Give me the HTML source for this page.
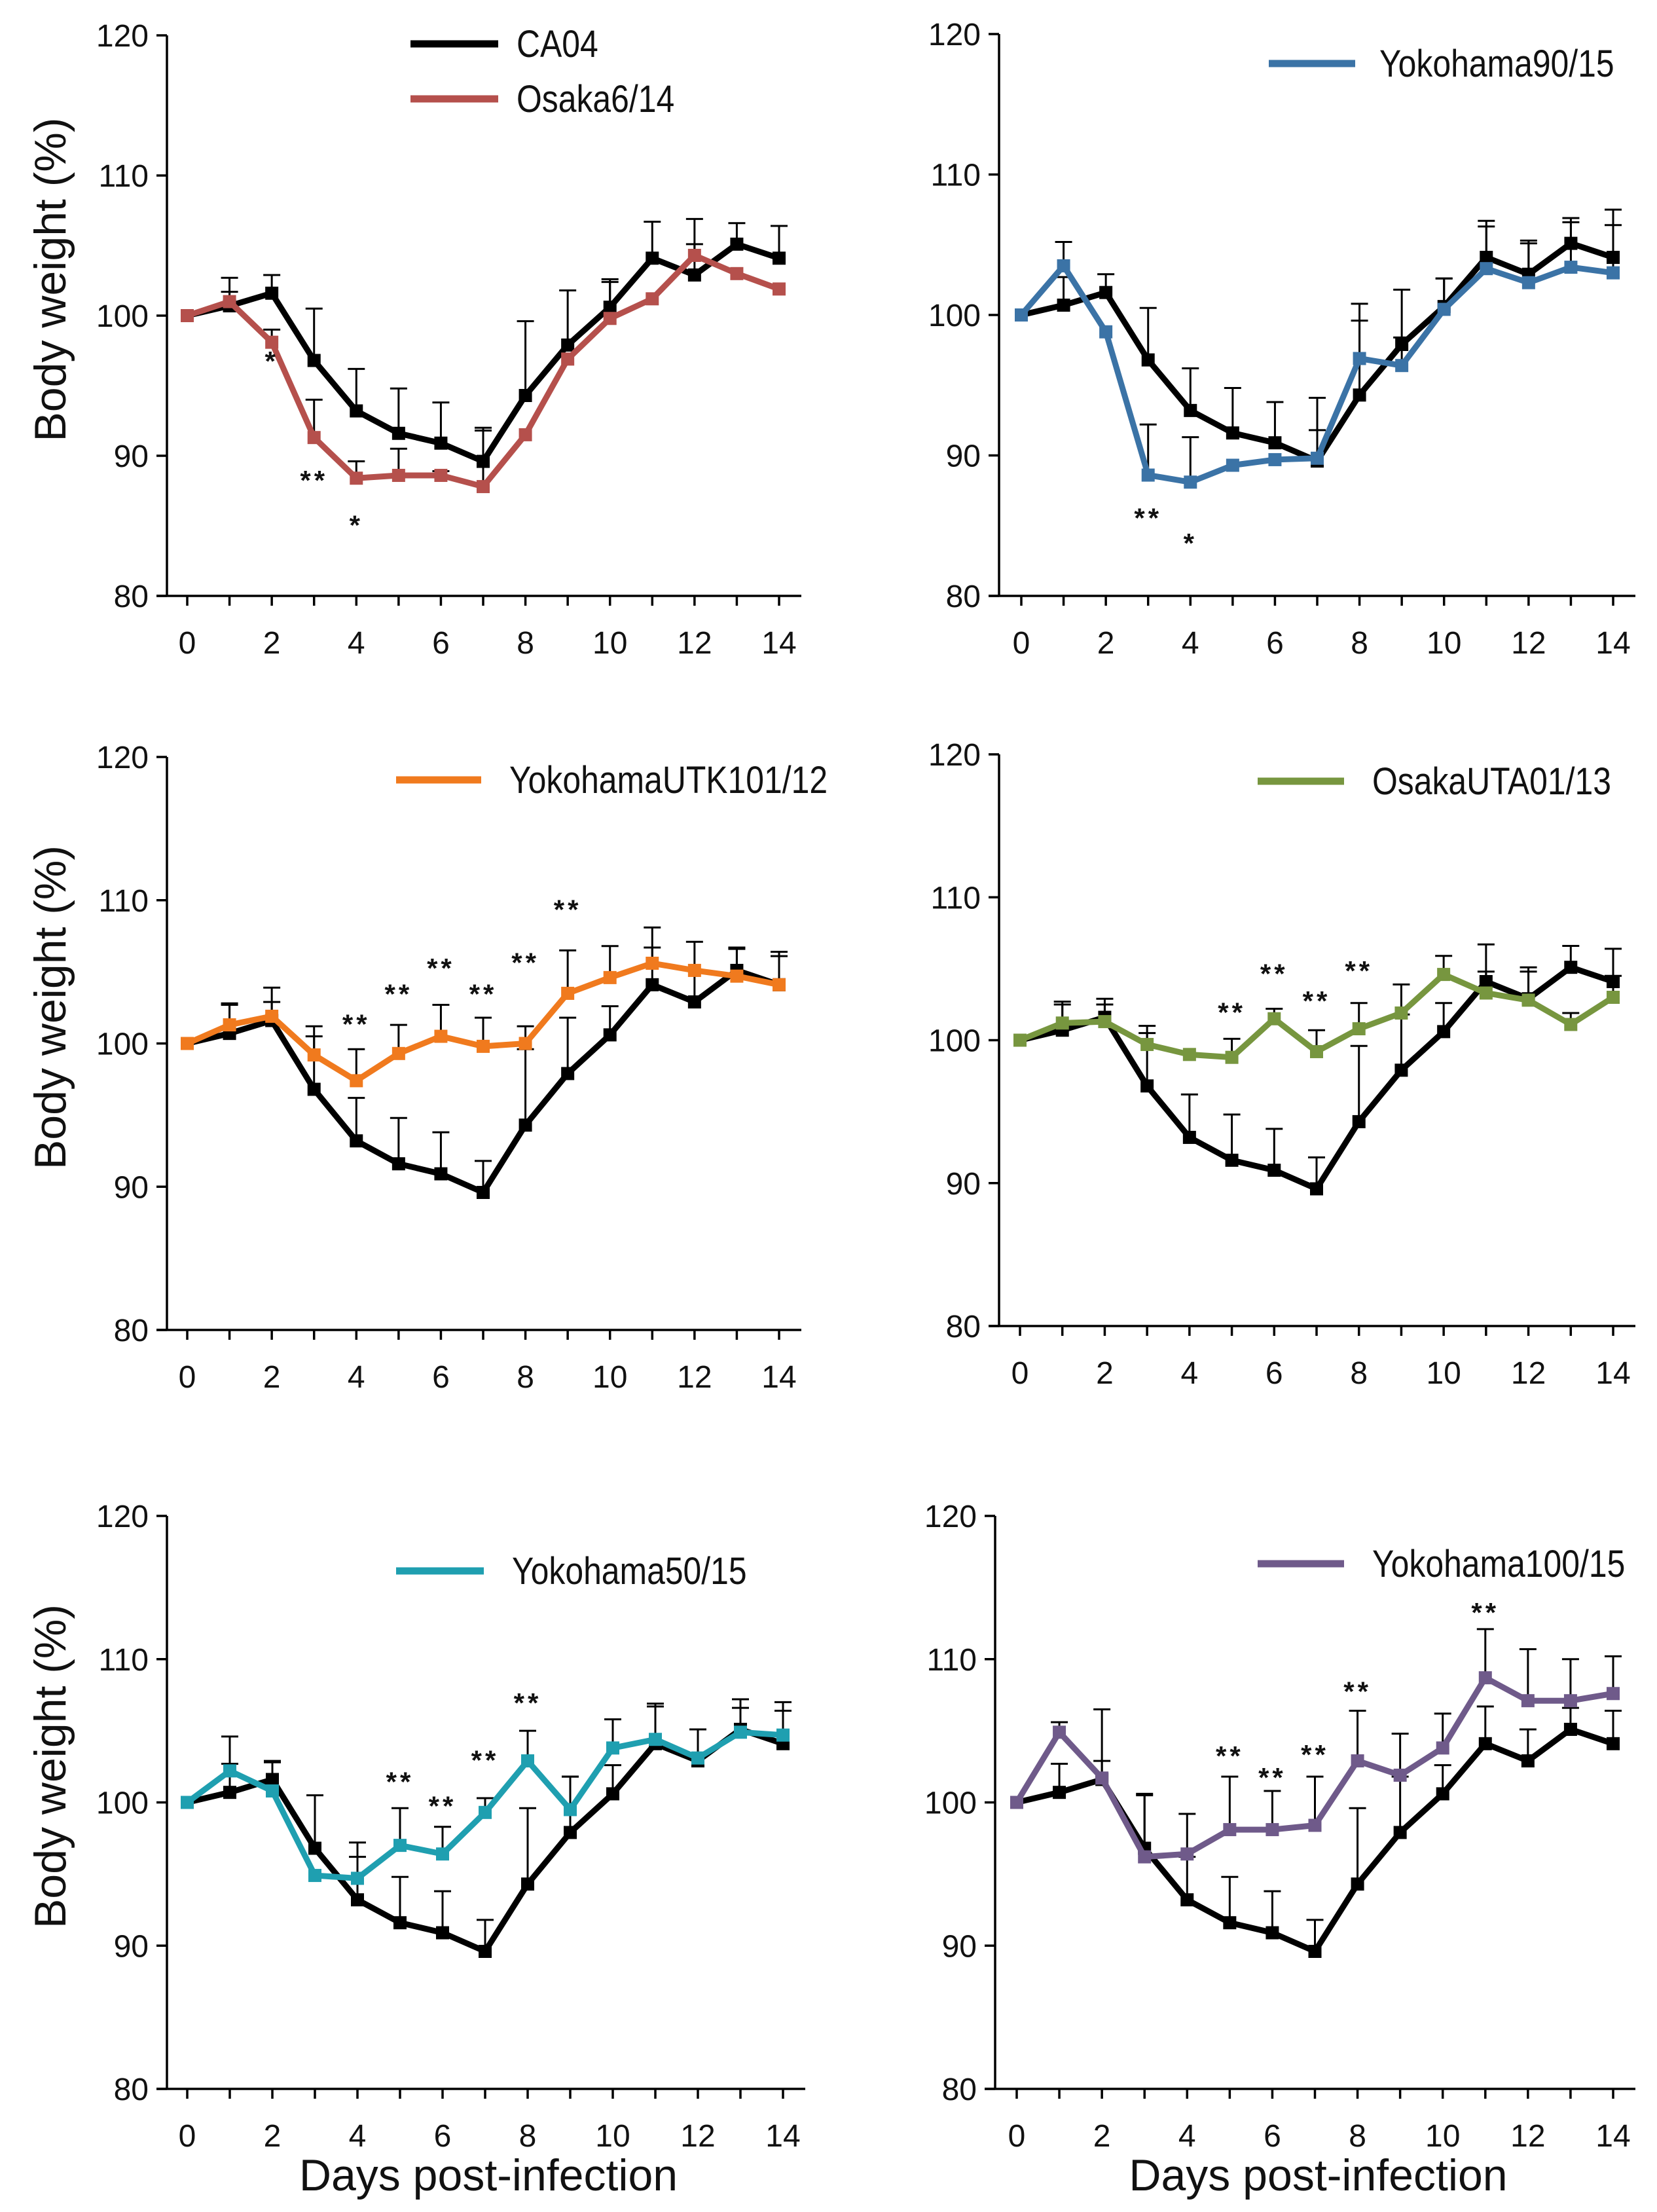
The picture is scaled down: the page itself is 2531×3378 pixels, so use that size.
<!DOCTYPE html>
<html><head><meta charset="utf-8"><style>
html,body{margin:0;padding:0;background:#fff;}
svg{display:block;font-family:"Liberation Sans",sans-serif;}
</style></head><body>
<svg id="chart" width="2531" height="3378" viewBox="0 0 2531 3378" xmlns="http://www.w3.org/2000/svg"></svg>
<script>
const days = [0,1,2,3,4,5,6,7,8,9,10,11,12,13,14];
const xTickLabels = ["0","2","4","6","8","10","12","14"];
const yTickLabels = ["80","90","100","110","120"];
const ca04 = [100,100.7,101.6,96.8,93.2,91.6,90.9,89.6,94.3,97.9,100.6,104.1,102.9,105.1,104.1];
const ca04Err = [0,2,1.3,3.7,3,3.2,2.9,2.2,5.3,3.9,2,2.6,2.2,1.5,2.3];
const osaka614 = [100,101,98.1,91.3,88.4,88.6,88.6,87.8,91.5,96.9,99.8,101.2,104.3,103,101.9];
const osaka614Err = [0,0.7,0.9,2.7,1.2,1.9,0.3,4.2,0,0,2.6,0,2.6,0,0];
const osaka614Stars = [[2,97,"*"],[3,88.5,"**"],[4,85.3,"*"]];
const yoko9015 = [100,103.5,98.8,88.6,88.1,89.3,89.7,89.8,96.9,96.4,100.4,103.3,102.3,103.4,103];
const yoko9015Err = [0,1.7,0,3.6,3.2,0,0,4.3,3.9,2,2.2,3,3,3.5,4.5];
const yoko9015Stars = [[3,85.8,"**"],[4,84,"*"]];
const utk10112 = [100,101.3,101.9,99.2,97.4,99.3,100.5,99.8,100,103.5,104.6,105.6,105.1,104.7,104.1];
const utk10112Err = [0,1.5,2,2,2.2,2,2.2,2,1.2,3,2.2,2.5,2,2,2];
const utk10112Stars = [[4,101.6,"**"],[5,103.7,"**"],[6,105.5,"**"],[7,103.7,"**"],[8,105.9,"**"],[9,109.6,"**"]];
const uta0113 = [100,101.2,101.3,99.7,99,98.8,101.5,99.2,100.8,101.9,104.6,103.3,102.8,101.1,103];
const uta0113Err = [0,1.3,1.2,1.3,0,1.3,0.7,1.5,1.8,2,1.3,1.5,2,0.8,1.5];
const uta0113Stars = [[5,102.2,"**"],[6,104.9,"**"],[7,103,"**"],[8,105.1,"**"]];
const yoko5015 = [100,102.2,100.8,94.9,94.7,97,96.4,99.3,102.9,99.5,103.8,104.4,103.1,104.9,104.7];
const yoko5015Err = [0,2.4,2,0,2.5,2.6,1.9,1,2.1,2.3,2,2.5,2,2.3,2.3];
const yoko5015Stars = [[5,101.7,"**"],[6,100,"**"],[7,103.2,"**"],[8,107.2,"**"]];
const yoko10015 = [100,104.9,101.7,96.2,96.4,98.1,98.1,98.4,102.9,101.9,103.8,108.7,107.1,107.1,107.6];
const yoko10015Err = [0,0.7,4.8,4.4,2.8,3.7,2.7,3.4,3.5,2.9,2.4,3.4,3.6,2.9,2.6];
const yoko10015Stars = [[5,103.5,"**"],[6,102,"**"],[7,103.6,"**"],[8,108,"**"],[11,113.5,"**"]];

const NS="http://www.w3.org/2000/svg";
const svg=document.getElementById('chart');
function mk(tag,attrs,parent){const e=document.createElementNS(NS,tag);for(const k in attrs)e.setAttribute(k,attrs[k]);(parent||svg).appendChild(e);return e;}

const panels=[
 {id:'osaka6-14',ax:255,x0:286,x14:1190,y120:54,y80:910,series:osaka614,err:osaka614Err,stars:osaka614Stars,color:'#b5504c',name:'Osaka6/14',leg:[627,761,789],legY:151,ytitle:true,xtitle:false,ca04Legend:true},
 {id:'yokohama90-15',ax:1526,x0:1560,x14:2464,y120:52,y80:910,series:yoko9015,err:yoko9015Err,stars:yoko9015Stars,color:'#3b73a6',name:'Yokohama90/15',leg:[1938,2070,2107],legY:97,ytitle:false,xtitle:false},
 {id:'yokohamautk101-12',ax:255,x0:286,x14:1190,y120:1156,y80:2031,series:utk10112,err:utk10112Err,stars:utk10112Stars,color:'#f07a1e',name:'YokohamaUTK101/12',leg:[605,735,778],legY:1191,ytitle:true,xtitle:false},
 {id:'osakauta01-13',ax:1526,x0:1558,x14:2464,y120:1152,y80:2025,series:uta0113,err:uta0113Err,stars:uta0113Stars,color:'#77963f',name:'OsakaUTA01/13',leg:[1921,2053,2096],legY:1193,ytitle:false,xtitle:false},
 {id:'yokohama50-15',ax:255,x0:286,x14:1196,y120:2315,y80:3190,series:yoko5015,err:yoko5015Err,stars:yoko5015Stars,color:'#1f9fb0',name:'Yokohama50/15',leg:[605,739,782],legY:2399,ytitle:true,xtitle:true},
 {id:'yokohama100-15',ax:1520,x0:1553,x14:2464,y120:2315,y80:3190,series:yoko10015,err:yoko10015Err,stars:yoko10015Stars,color:'#6f5a8a',name:'Yokohama100/15',leg:[1921,2053,2096],legY:2388,ytitle:false,xtitle:true}
];

panels.forEach(p=>{
 const g=mk('g',{});
 
 
 const X=d=>p.x0+(p.x14-p.x0)*d/14;
 const Y=v=>p.y80+(p.y120-p.y80)*(v-80)/40;
 const yax=mk('line',{x1:p.ax,y1:p.y120,x2:p.ax,y2:p.y80,stroke:'#000','stroke-width':3.5},g);
 
 
 const xax=mk('line',{x1:p.ax-16,y1:p.y80,x2:p.x14+34,y2:p.y80,stroke:'#000','stroke-width':3.5},g);
 
 
 yTickLabels.forEach(t=>{
  const v=+t;
  mk('line',{x1:p.ax-16,y1:Y(v),x2:p.ax,y2:Y(v),stroke:'#000','stroke-width':3.5},g);
  const tx=mk('text',{x:p.ax-28,y:Y(v)+17,'font-size':48,'text-anchor':'end',fill:'#111'},g);
  tx.textContent=t;
  
  
 });
 days.forEach(d=>{mk('line',{x1:X(d),y1:p.y80,x2:X(d),y2:p.y80+15,stroke:'#000','stroke-width':3.5},g);});
 xTickLabels.forEach(t=>{
  const tx=mk('text',{x:X(+t),y:p.y80+88,'font-size':48,'text-anchor':'middle',fill:'#111'},g);
  tx.textContent=t;
  
  
 });
 function drawSeries(vals,errs,color,nm){
  const sg=mk('g',{},g);
  
  
  days.forEach((d,i)=>{
   if(errs[i]>0){
    mk('line',{x1:X(d),y1:Y(vals[i]),x2:X(d),y2:Y(vals[i]+errs[i]),stroke:'#000','stroke-width':3},sg);
    mk('line',{x1:X(d)-13,y1:Y(vals[i]+errs[i]),x2:X(d)+13,y2:Y(vals[i]+errs[i]),stroke:'#000','stroke-width':3},sg);
   }
  });
  const pts=days.map((d,i)=>X(d)+','+Y(vals[i])).join(' ');
  mk('polyline',{points:pts,fill:'none',stroke:color,'stroke-width':9,'stroke-linejoin':'round'},sg);
  days.forEach((d,i)=>{
   const r=mk('rect',{x:X(d)-10,y:Y(vals[i])-10,width:20,height:20,fill:color},sg);
   
   
  });
 }
 drawSeries(ca04,ca04Err,'#000','ca04');
 drawSeries(p.series,p.err,p.color,p.id);
 p.stars.forEach(s=>{
  const st=mk('text',{x:X(s[0]),y:Y(s[1])+20,'font-size':42,'font-weight':'bold','text-anchor':'middle',fill:'#111','letter-spacing':5},g);
  st.textContent=s[2];
  
  
 });
 function legend(x1,x2,tx,y,color,label){
  const lg=mk('g',{},g);
  
  
  mk('line',{x1:x1,y1:y,x2:x2,y2:y,stroke:color,'stroke-width':11},lg);
  const t=mk('text',{x:tx,y:y+20,'font-size':58,fill:'#111',transform:'translate('+tx+' 0) scale(0.86 1) translate('+(-tx)+' 0)'},lg);
  t.textContent=label;
 }
 if(p.ca04Legend) legend(627,761,789,67,'#000','CA04');
 legend(p.leg[0],p.leg[1],p.leg[2],p.legY,p.color,p.name);
 if(p.ytitle){
  const cy=(p.y120+p.y80)/2-55;
  const t=mk('text',{x:0,y:0,'font-size':68,'text-anchor':'middle',fill:'#111',transform:'translate(100 '+cy+') rotate(-90)'},g);
  t.textContent='Body weight  (%)';
  
  
 }
 if(p.xtitle){
  const t=mk('text',{x:(p.x0+p.x14)/2+5,y:3345,'font-size':68,'text-anchor':'middle',fill:'#111'},g);
  t.textContent='Days post-infection';
  
  
 }
});
</script>
</body></html>
